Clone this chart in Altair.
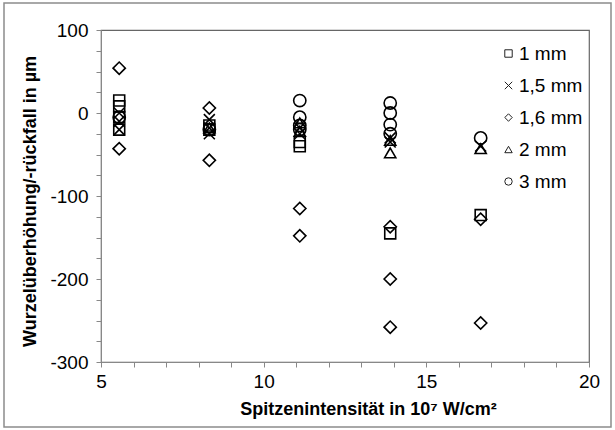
import altair as alt
import pandas as pd

series_names = ["1 mm", "1,5 mm", "1,6 mm", "2 mm", "3 mm"]

x_1mm = [5.56, 5.56, 5.56, 5.56, 8.33, 8.33, 11.11, 11.11, 13.89, 16.67]
y_1mm = [15, 8, -5, -20, -15, -20, -35, -40, -145, -123]

x_15mm = [5.56, 5.56, 5.56, 8.33, 8.33, 8.33, 11.11, 11.11, 13.89, 13.89, 16.67]
y_15mm = [0, -10, -20, -8, -18, -25, -18, -25, -30, -35, -40]

x_16mm = [5.56, 5.56, 8.33, 8.33, 11.11, 11.11, 13.89, 13.89, 13.89, 16.67, 16.67]
y_16mm = [54, -43, 6, -57, -115, -148, -137, -200, -258, -128, -253]

x_2mm = [8.33, 11.11, 11.11, 13.89, 13.89, 16.67]
y_2mm = [-18, -12, -22, -33, -48, -43]

x_3mm = [5.56, 8.33, 11.11, 11.11, 11.11, 11.11, 13.89, 13.89, 13.89, 13.89, 16.67]
y_3mm = [-5, -20, 15, -5, -15, -20, 12, 0, -14, -25, -30]

x_ticks = list(range(5, 21))
y_ticks = list(range(-300, 101, 25))

rows = []
for name, xs, ys in zip(series_names,
                        [x_1mm, x_15mm, x_16mm, x_2mm, x_3mm],
                        [y_1mm, y_15mm, y_16mm, y_2mm, y_3mm]):
    for xv, yv in zip(xs, ys):
        rows.append({"Serie": name, "x": xv, "y": yv})
df = pd.DataFrame(rows)

FONT = "Liberation Sans"
W, H = 488, 332

shapes = ["square", "M-1,-1L1,1M-1,1L1,-1", "diamond", "triangle-up", "circle"]

points = alt.Chart(df).transform_calculate(
    sz="datum.Serie == '1,6 mm' ? 150 : (datum.Serie == '3 mm' ? 150 : (datum.Serie == '2 mm' ? 125 : 120))"
).mark_point(
    filled=False, color="black", strokeWidth=1.6, opacity=1
).encode(
    x=alt.X("x:Q", scale=alt.Scale(domain=[5, 20], nice=False, zero=False),
            axis=alt.Axis(values=x_ticks,
                          labelExpr="datum.value % 5 == 0 ? toString(datum.value) : ''",
                          labelFlush=False,
                          title="Spitzenintensität in 10⁷ W/cm²",
                          titleX=267, titlePadding=9, labelPadding=5)),
    y=alt.Y("y:Q", scale=alt.Scale(domain=[-300, 100], nice=False),
            axis=alt.Axis(values=y_ticks,
                          labelExpr="datum.value % 100 == 0 ? toString(datum.value) : ''",
                          labelFlush=False,
                          title="Wurzelüberhöhung/-rückfall in µm",
                          titleY=H / 2 + 5, titlePadding=10, labelPadding=8)),
    shape=alt.Shape("Serie:N", sort=series_names,
                    scale=alt.Scale(domain=series_names, range=shapes),
                    legend=alt.Legend(title=None, orient="none", legendX=398, legendY=14,
                                      symbolSize=55, symbolStrokeWidth=1,
                                      symbolStrokeColor="#222", symbolFillColor="transparent",
                                      labelFont=FONT, labelFontSize=19, labelColor="black",
                                      labelOffset=1, rowPadding=12)),
    size=alt.Size("sz:Q", scale=None, legend=None),
)

frame = alt.Chart(pd.DataFrame({"a": [0]})).mark_rect(
    fill="transparent", stroke="#8c8c8c", strokeWidth=1.5, clip=False
).encode(
    x=alt.value(-97), x2=alt.value(W + 22),
    y=alt.value(-27), y2=alt.value(H + 65),
)

chart = alt.layer(frame, points).properties(
    width=W, height=H,
    autosize=alt.AutoSizeParams(type="none"),
    padding={"left": 101, "top": 30, "right": 26, "bottom": 68},
    background="white",
).configure_view(
    stroke="#666", strokeWidth=1.2
).configure_axis(
    grid=False, domainColor="#888", tickColor="#888", tickSize=5,
    labelFont=FONT, labelFontSize=19, labelColor="black",
    titleFont=FONT, titleFontWeight="bold", titleColor="black",
).configure_axisX(
    titleFontSize=18
).configure_axisY(
    titleFontSize=18
)

chart.save("out.html", embed_options={"renderer": "svg", "actions": False})
